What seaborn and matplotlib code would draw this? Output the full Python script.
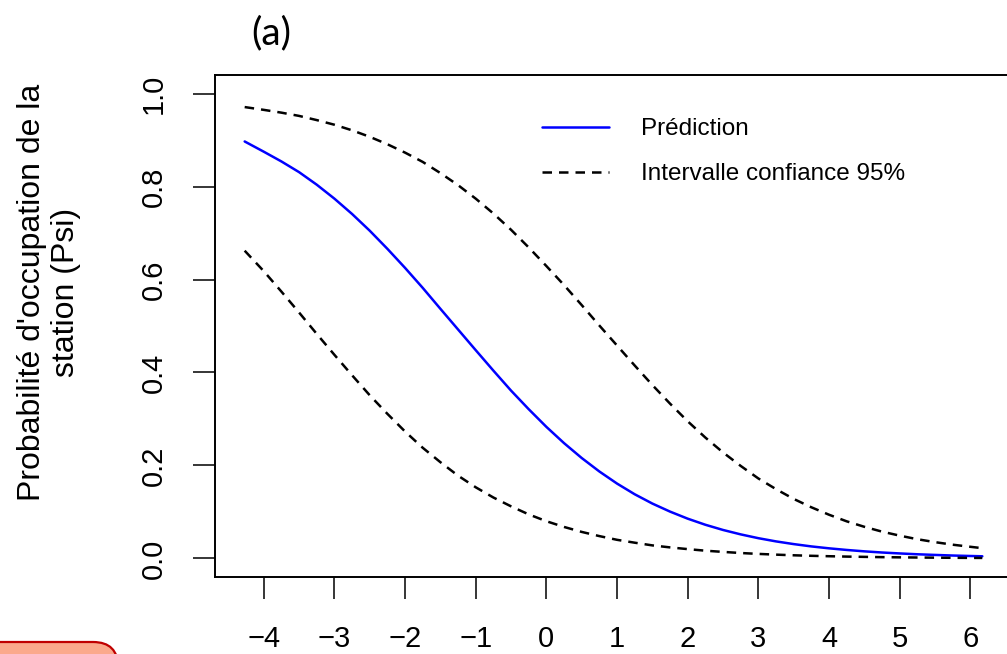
import numpy as np
import pandas as pd
import matplotlib
matplotlib.use("Agg")
import matplotlib.pyplot as plt
from matplotlib.patches import FancyBboxPatch
import seaborn as sns

# values
x_vals = [-4.27, -4.0, -3.75, -3.5, -3.25, -3.0, -2.75, -2.5, -2.25, -2.0, -1.75, -1.5,
          -1.25, -1.0, -0.75, -0.5, -0.25, 0.0, 0.25, 0.5, 0.75, 1.0, 1.25, 1.5,
          1.75, 2.0, 2.25, 2.5, 2.75, 3.0, 3.25, 3.5, 3.75, 4.0, 4.25, 4.5,
          4.75, 5.0, 5.25, 5.5, 5.75, 6.0, 6.17]
prediction = [0.897, 0.875, 0.854, 0.831, 0.804, 0.774, 0.741, 0.705, 0.666, 0.625, 0.582, 0.537,
              0.4925, 0.448, 0.404, 0.361, 0.321, 0.283, 0.248, 0.216, 0.187, 0.161, 0.138, 0.118,
              0.1007, 0.0855, 0.0724, 0.0612, 0.0517, 0.0435, 0.0366, 0.0308, 0.0258, 0.0217, 0.0182, 0.0152,
              0.0127, 0.0107, 0.0089, 0.0075, 0.0062, 0.0052, 0.0046]
ci_upper = [0.971, 0.965, 0.959, 0.952, 0.943, 0.933, 0.921, 0.907, 0.891, 0.873, 0.853, 0.829,
            0.803, 0.774, 0.742, 0.707, 0.669, 0.629, 0.588, 0.545, 0.501, 0.458, 0.415, 0.373,
            0.333, 0.295, 0.260, 0.228, 0.199, 0.172, 0.149, 0.128, 0.110, 0.094, 0.0798, 0.068,
            0.0576, 0.049, 0.0413, 0.035, 0.0295, 0.025, 0.022]
ci_lower = [0.662, 0.618, 0.574, 0.529, 0.483, 0.438, 0.394, 0.351, 0.311, 0.273, 0.238, 0.207,
            0.178, 0.153, 0.131, 0.112, 0.0947, 0.080, 0.0677, 0.057, 0.048, 0.040, 0.0338, 0.028,
            0.0237, 0.020, 0.0166, 0.014, 0.0116, 0.0097, 0.0081, 0.0067, 0.0056, 0.0047, 0.0039, 0.0033,
            0.0027, 0.0023, 0.0019, 0.0016, 0.0013, 0.0011, 0.0010]
x_ticks = [-4, -3, -2, -1, 0, 1, 2, 3, 4, 5, 6]
y_ticks = [0.0, 0.2, 0.4, 0.6, 0.8, 1.0]
legend_labels = ["Prédiction", "Intervalle confiance 95%"]

df = pd.DataFrame({"x": x_vals, "pred": prediction, "up": ci_upper, "low": ci_lower})

sns.set_style("white")
plt.rcParams["font.family"] = ["Liberation Sans", "DejaVu Sans"]
plt.rcParams["text.color"] = "black"
plt.rcParams["xtick.color"] = "black"
plt.rcParams["ytick.color"] = "black"

W, H = 1007, 654
fig = plt.figure(figsize=(W / 100, H / 100), dpi=100)
# axes box in pixels: left 215, right 1012 (cropped), top 75, bottom 577
ax = fig.add_axes([215 / W, (H - 577) / H, (1012 - 215) / W, (577 - 75) / H])

lw = 1.8
dash = (3.8, 2.8)
sns.lineplot(data=df, x="x", y="pred", ax=ax, color="blue", linewidth=lw, label=legend_labels[0])
sns.lineplot(data=df, x="x", y="up", ax=ax, color="black", linewidth=lw, label=legend_labels[1])
sns.lineplot(data=df, x="x", y="low", ax=ax, color="black", linewidth=lw)
for line in ax.lines[1:]:
    line.set_dashes(dash)

ax.set_xlim(-4.69, 6.59)
ax.set_ylim(-0.04, 1.04)
ax.set_xticks(x_ticks)
ax.set_xticklabels(["\u2212" + str(-t) if t < 0 else str(t) for t in x_ticks])
ax.set_yticks(y_ticks)
ax.set_yticklabels(["%.1f" % t for t in y_ticks], rotation=90, va="center")
ax.set_xlabel("")
ax.set_ylabel("")

for s in ax.spines.values():
    s.set_linewidth(1.4)
    s.set_color("black")
ax.tick_params(axis="both", direction="out", length=15.8, width=1.1, color="black",
               labelsize=21, labelcolor="black", bottom=True, left=True)
ax.tick_params(axis="x", pad=18.5)
ax.tick_params(axis="y", pad=18)

leg = ax.legend(loc="upper left", bbox_to_anchor=(542 / W, 536 / H), bbox_transform=fig.transFigure,
                frameon=False, fontsize=17.5, handlelength=2.75, handletextpad=1.32,
                labelspacing=0.95, borderpad=0, borderaxespad=0)
leg.get_lines()[1].set_dashes(dash)
for t in leg.get_texts():
    t.set_color("black")

fig.text(49 / W, 1 - 292 / H, "Probabilité d'occupation de la\nstation (Psi)",
         rotation=90, ha="center", va="center", fontsize=23, linespacing=1.2)
fig.text(271 / W, 1 - 33 / H, "(a)", ha="center", va="center", fontsize=28,
         family=["Lato", "DejaVu Sans"])

# partial rounded label box at bottom-left corner
box = FancyBboxPatch((-40, -40), 158, 52, boxstyle="round,pad=0,rounding_size=25",
                     transform=None, facecolor="#fba98c", edgecolor="#c00000", linewidth=1.6,
                     clip_on=False)
fig.patches.append(box)

fig.savefig("out.png", dpi=100)
